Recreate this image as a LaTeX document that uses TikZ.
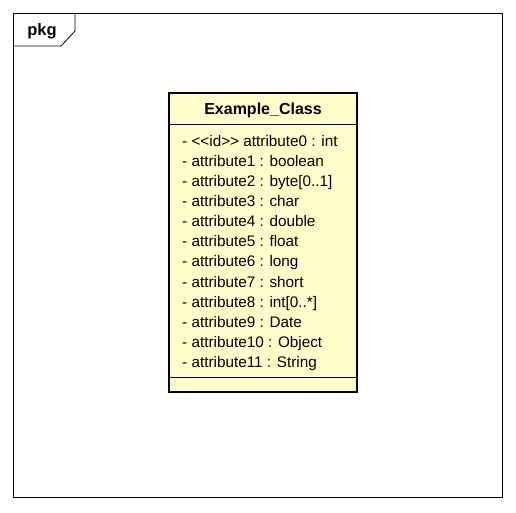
\documentclass[tikz,border=0pt]{standalone}
\usepackage{fontspec}
\setmainfont{Liberation Sans}
\definecolor{classfill}{HTML}{FFFFCC}
\begin{document}
\begin{tikzpicture}[x=1pt,y=-1pt,
  frameline/.style={draw=black, line width=0.8pt},
  attr/.style={anchor=base west, inner sep=0pt, font=\fontsize{15.3}{17}\selectfont},
  titletext/.style={inner sep=0pt, font=\fontsize{16}{18}\selectfont\bfseries}]
\useasboundingbox (0,0) rectangle (516,512);
% package frame
\draw[frameline] (13,13) rectangle (502,497);
\draw[frameline] (13,46) -- (61,46) -- (75,31) -- (75,13);
\node[titletext, anchor=center, font=\fontsize{16.5}{18}\selectfont\bfseries] (pkg) at (42,31) {pkg};
% class box
\path[fill=classfill] (169,93) rectangle (357,392);
\draw[line width=0.8pt] (169,124) -- (357,124);
\draw[line width=0.8pt] (169,377) -- (357,377);
\draw[line width=2.4pt] (169,93) rectangle (357,392);
\node[titletext, anchor=center] (title) at (263,110) {Example\_Class};
\node[attr] (a0) at (182,146) {- <{}<id>{}> attribute0 : int};
\node[attr] (a1) at (182,166) {- attribute1 : boolean};
\node[attr] (a2) at (182,186) {- attribute2 : byte[0..1]};
\node[attr] (a3) at (182,206) {- attribute3 : char};
\node[attr] (a4) at (182,226) {- attribute4 : double};
\node[attr] (a5) at (182,246) {- attribute5 : float};
\node[attr] (a6) at (182,266) {- attribute6 : long};
\node[attr] (a7) at (182,287) {- attribute7 : short};
\node[attr] (a8) at (182,307) {- attribute8 : int[0..*]};
\node[attr] (a9) at (182,327) {- attribute9 : Date};
\node[attr] (a10) at (182,347) {- attribute10 : Object};
\node[attr] (a11) at (182,367) {- attribute11 : String};
\end{tikzpicture}
\end{document}
